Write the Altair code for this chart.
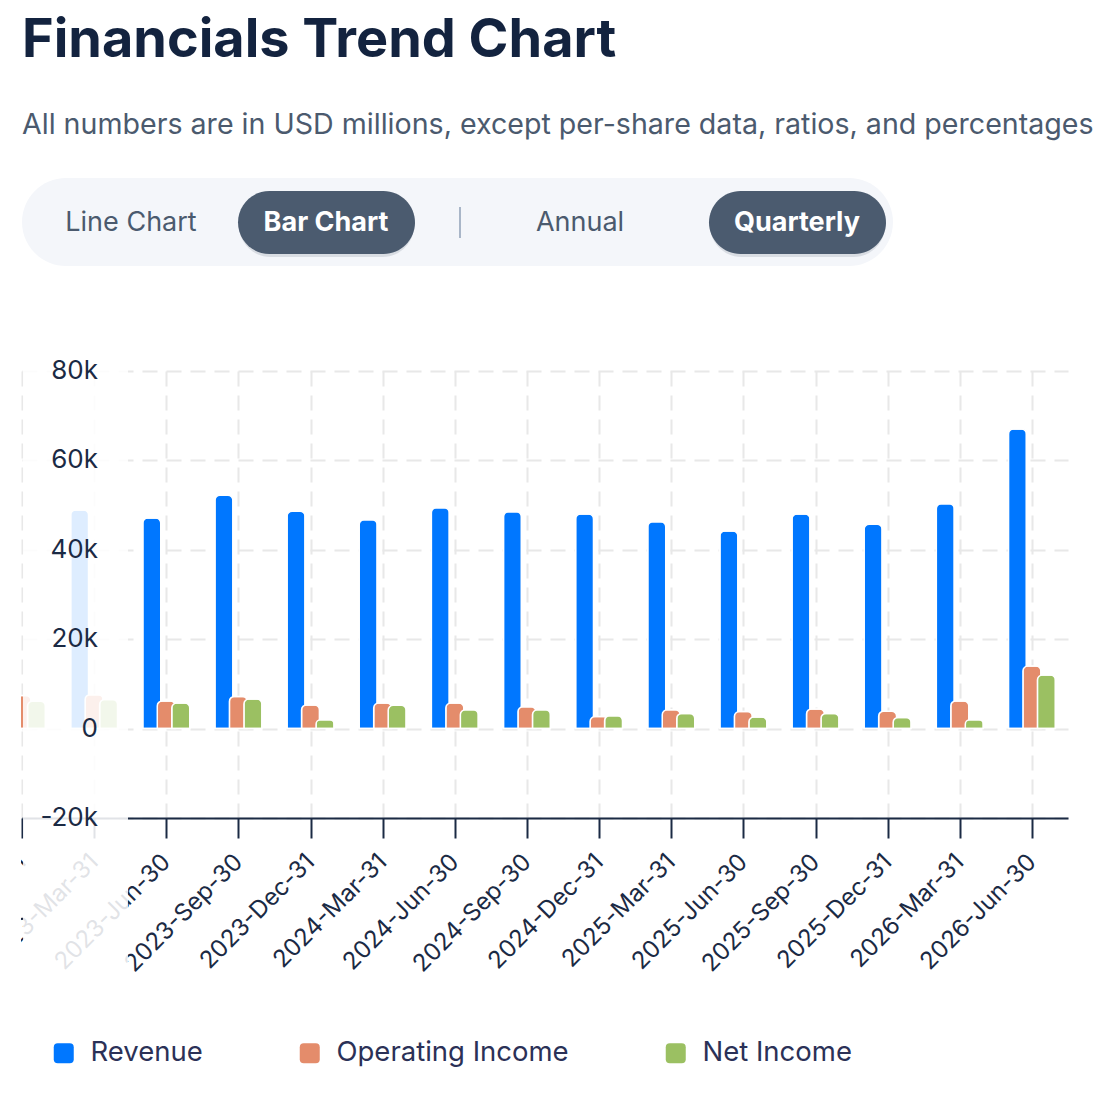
import json
import altair as alt
import pandas as pd

# ---------------- data ----------------
quarters = [
    "2022-Dec-31", "2023-Mar-31", "2023-Jun-30", "2023-Sep-30", "2023-Dec-31",
    "2024-Mar-31", "2024-Jun-30", "2024-Sep-30", "2024-Dec-31", "2025-Mar-31",
    "2025-Jun-30", "2025-Sep-30", "2025-Dec-31", "2026-Mar-31", "2026-Jun-30",
]
revenue = [48000, 48900, 47100, 52200, 48600, 46700, 49400, 48500, 48000, 46300,
           44200, 48000, 45700, 50300, 67000]
operating_income = [7400, 7600, 6200, 7200, 5300, 5700, 5700, 4900, 2700, 4200,
                    3800, 4400, 3900, 6200, 14000]
net_income = [6100, 6500, 5700, 6600, 2000, 5200, 4200, 4200, 2900, 3400,
              2600, 3400, 2500, 2000, 12000]
series = ["Revenue", "Operating Income", "Net Income"]
series_colors = ["#0077ff", "#e48c6b", "#9bc062"]
y_ticks = [-20000, 0, 20000, 40000, 60000, 80000]
y_tick_labels = ["-20k", "0", "20k", "40k", "60k", "80k"]

title_text = "Financials Trend Chart"
subtitle_text = "All numbers are in USD millions, except per-share data, ratios, and percentages"
button_labels = ["Line Chart", "Bar Chart", "Annual", "Quarterly"]
button_selected = [False, True, False, True]

# ---------------- tables ----------------
rows = []
for name, vals in zip(series, [revenue, operating_income, net_income]):
    for i, v in enumerate(vals):
        rows.append({"idx": i, "quarter": quarters[i], "series": name, "amount": v})
df = pd.DataFrame(rows)
ydf = pd.DataFrame({"v": y_ticks, "label": y_tick_labels})
one = pd.DataFrame({"k": [0]})

FONT = "Inter"
NAVY = "#1b2a44"
W, H = 1046, 447

# UI layout (pixel geometry of header controls, relative to plot area)
btn_x = [109, 304, 558, 775]
btn_df = pd.DataFrame({"label": button_labels, "sel": button_selected, "bx": btn_x})
pill_x0 = [216, 687]
pill_x1 = [393, 864]

xscale = alt.Scale(domain=[0, 14.5], nice=False, zero=False, padding=0)
yscale = alt.Scale(domain=[-20000, 80000], nice=False)
label_expr = json.dumps(quarters) + "[datum.value]"

color = alt.Color(
    "series:N",
    scale=alt.Scale(domain=series, range=series_colors),
    legend=alt.Legend(
        orient="none", legendX=28, legendY=668, direction="horizontal", title=None,
        symbolType="M-1,-0.6Q-1,-1,-0.6,-1L0.6,-1Q1,-1,1,-0.6L1,0.6Q1,1,0.6,1L-0.6,1Q-1,1,-1,0.6Z",
        symbolSize=400, symbolStrokeWidth=0, labelFontSize=27.5, labelFont=FONT,
        labelColor="#2b3157", columnPadding=93, labelOffset=13, padding=0,
        labelLimit=500,
    ),
)

y_axis = alt.Axis(values=y_ticks, labels=False, ticks=False, domain=False, grid=True,
                  gridColor="#e8e8e8", gridDash=[15, 9], gridWidth=2)

x_enc = alt.X(
    "idx:Q", scale=xscale, title=None,
    axis=alt.Axis(
        values=list(range(len(quarters))), labelExpr=label_expr, labelAngle=-45,
        labelAlign="right", labelBaseline="middle", labelPadding=20, labelFontSize=24,
        labelFont=FONT, labelColor=NAVY, tickColor=NAVY, tickWidth=2, tickSize=20,
        domainColor=NAVY, domainWidth=2, grid=True, gridColor="#e8e8e8",
        gridDash=[15, 9], gridWidth=2, labelOverlap=False, labelBound=False,
    ),
)
y_enc = alt.Y("amount:Q", scale=yscale, title=None, axis=y_axis)

offsets = [-14.5, 0, 14.5]
bar_layers = []
for name, off in zip(series, offsets):
    bar_layers.append(
        alt.Chart(df).transform_filter(alt.datum.series == name)
        .mark_bar(width=18, xOffset=off, stroke="white", strokeWidth=1.5,
                  cornerRadiusTopLeft=5, cornerRadiusTopRight=5)
        .encode(x=x_enc, y=y_enc, color=color)
    )

# scroll-fade over the leftmost columns and a mask for what is scrolled out of view
fade = alt.Chart(one).mark_rect(fill="white", opacity=0.87).encode(
    x=alt.value(1), x2=alt.value(106), y=alt.value(-8), y2=alt.value(H + 190)
)
mask = alt.Chart(one).mark_rect(fill="white", opacity=1).encode(
    x=alt.value(-40), x2=alt.value(-1), y=alt.value(-8), y2=alt.value(H + 200)
)

ylabels = alt.Chart(ydf).mark_text(
    align="right", baseline="middle", fontSize=26, font=FONT, color=NAVY
).encode(x=alt.value(76), y=alt.Y("v:Q", scale=yscale, title=None, axis=y_axis), text="label:N")

# header controls
container = alt.Chart(one).mark_rect(fill="#f4f6fa", cornerRadius=44).encode(
    x=alt.value(0), x2=alt.value(871), y=alt.value(-193), y2=alt.value(-105)
)
header_layers = [container]
for a, b in zip(pill_x0, pill_x1):
    header_layers.append(
        alt.Chart(one).mark_rect(fill="#1b2a44", opacity=0.12, cornerRadius=32).encode(
            x=alt.value(a + 1), x2=alt.value(b - 1), y=alt.value(-177), y2=alt.value(-114)
        )
    )
    header_layers.append(
        alt.Chart(one).mark_rect(fill="#4b5b6f", cornerRadius=32).encode(
            x=alt.value(a), x2=alt.value(b), y=alt.value(-180), y2=alt.value(-117)
        )
    )
sep = alt.Chart(one).mark_rule(color="#a9b6c8", strokeWidth=2).encode(
    x=alt.value(438), y=alt.value(-164), y2=alt.value(-133)
)
btn_off = alt.Chart(btn_df).transform_filter("!datum.sel").mark_text(
    fontSize=27, font=FONT, color="#4b5a6e", baseline="middle"
).encode(x=alt.X("bx:Q", scale=None, axis=None), y=alt.value(-148), text="label:N")
btn_on = alt.Chart(btn_df).transform_filter("datum.sel").mark_text(
    fontSize=27, font=FONT, color="white", fontWeight="bold", baseline="middle"
).encode(x=alt.X("bx:Q", scale=None, axis=None), y=alt.value(-148), text="label:N")

chart = alt.layer(
    *bar_layers, fade, mask, ylabels, *header_layers, sep, btn_off, btn_on
).properties(
    width=W, height=H,
    title=alt.TitleParams(
        text=title_text, subtitle=subtitle_text, anchor="start", frame="group",
        font=FONT, fontSize=54, fontWeight="bold", color="#13233f",
        subtitleFont=FONT, subtitleFontSize=28.6, subtitleColor="#4b5a6e",
        subtitlePadding=43, offset=38,
    ),
    autosize=alt.AutoSizeParams(type="none"),
    padding={"left": 14, "top": 363, "right": 39, "bottom": 270},
    background="white",
).configure_view(stroke=None)

chart.save("out.html", embed_options={"renderer": "svg", "actions": False})
